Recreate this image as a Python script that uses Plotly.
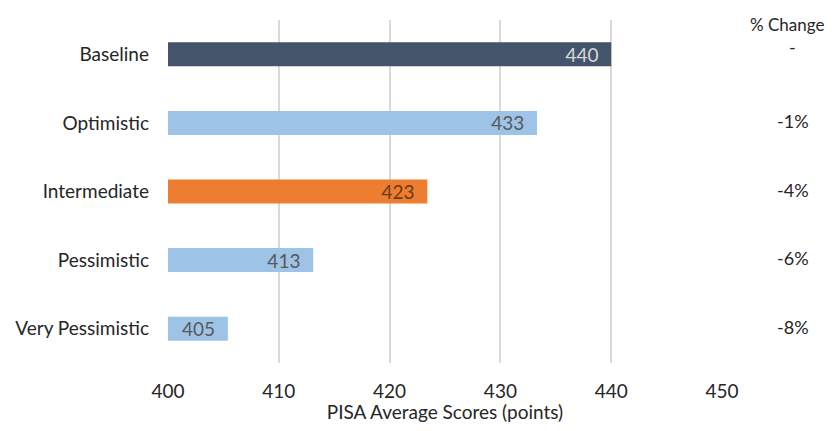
import plotly.graph_objects as go

scenarios = ["Baseline", "Optimistic", "Intermediate", "Pessimistic", "Very Pessimistic"]
scores = [440.0, 433.3, 423.4, 413.1, 405.4]
score_labels = ["440", "433", "423", "413", "405"]
pct_change = ["-", "-1%", "-4%", "-6%", "-8%"]
bar_colors = ["#44546a", "#9dc3e6", "#ed7d31", "#9dc3e6", "#9dc3e6"]
text_colors = ["#d9d9d9", "#595959", "#6b3a17", "#595959", "#595959"]
x_ticks = [400, 410, 420, 430, 440, 450]

FONT = "Lato, Open Sans, sans-serif"
PAD = "\u00a0\u00a0"

fig = go.Figure()
fig.add_trace(go.Bar(
    y=scenarios, x=scores, orientation="h",
    marker=dict(color=bar_colors, line=dict(width=0)),
    text=[t + PAD for t in score_labels], textposition="inside", insidetextanchor="end",
    constraintext="none",
    textfont=dict(family=FONT, size=19, color=text_colors),
    cliponaxis=False, hoverinfo="skip",
))

for s, p in zip(scenarios, pct_change):
    fig.add_annotation(x=1.128, xref="paper", y=s, yref="y", text=p,
                       showarrow=False, xanchor="center",
                       yshift=7 if p == "-" else 2,
                       font=dict(family=FONT, size=18, color="#262626"))
fig.add_annotation(x=1.118, xref="paper", y=1.0, yref="paper", text="% Change",
                   showarrow=False, xanchor="center", yanchor="middle", yshift=-4,
                   font=dict(family=FONT, size=17, color="#262626"))

fig.update_layout(
    width=820, height=415,
    margin=dict(l=160, r=106, t=12, b=60, autoexpand=False),
    paper_bgcolor="white", plot_bgcolor="white",
    bargap=0.65, showlegend=False,
    font=dict(family=FONT, size=19, color="#262626"),
    xaxis=dict(range=[400, 450], tickvals=x_ticks, showgrid=True,
               gridcolor="#d9d9d9", gridwidth=2, zeroline=False,
               showline=False, ticks="", automargin=False,
               ticklabelstandoff=15,
               title=dict(text="PISA Average Scores (points)", standoff=16,
                          font=dict(family=FONT, size=19, color="#262626")),
               tickfont=dict(family=FONT, size=19, color="#262626")),
    yaxis=dict(categoryorder="array", categoryarray=scenarios, autorange="reversed",
               showgrid=False, zeroline=False, showline=False, ticks="",
               ticklabelstandoff=18, automargin=False,
               tickfont=dict(family=FONT, size=19, color="#262626")),
)

fig.write_html("out.html")
